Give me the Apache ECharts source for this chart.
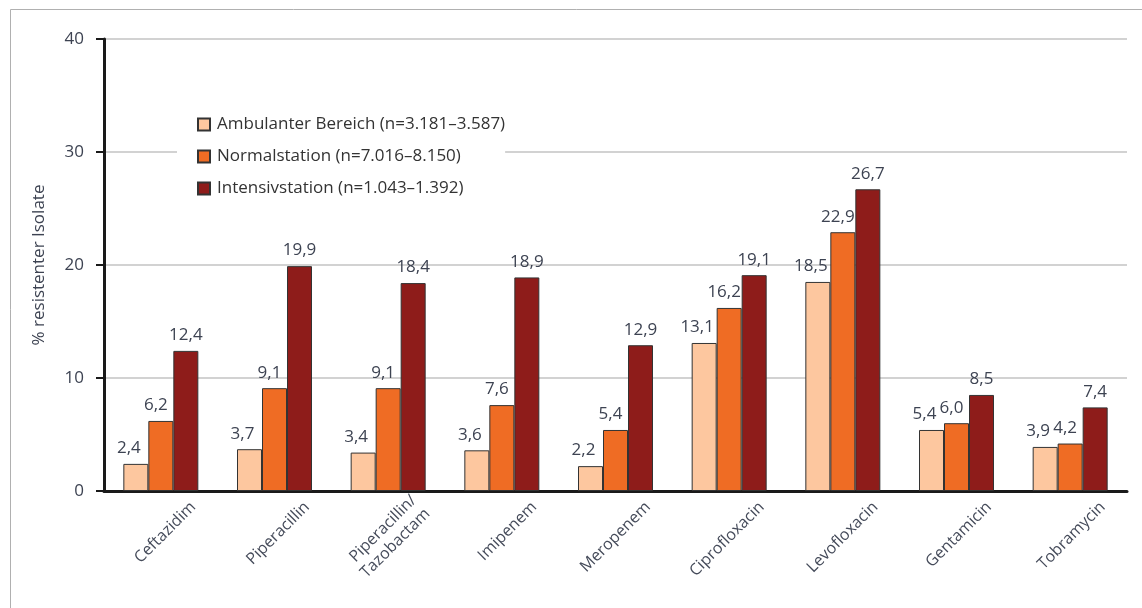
<!DOCTYPE html>
<html>
<head>
<meta charset="utf-8">
<script src="https://cdn.jsdelivr.net/npm/echarts@6/dist/echarts.min.js"></script>
<style>
  html, body { margin: 0; padding: 0; background: #fff; }
  #chart { width: 1142px; height: 608px; }
</style>
</head>
<body>
<div id="chart"></div>
<script>
// Kategorien und Werte (% resistenter Isolate)
var categories = ['Ceftazidim', 'Piperacillin', 'Piperacillin/\nTazobactam', 'Imipenem', 'Meropenem',
    'Ciprofloxacin', 'Levofloxacin', 'Gentamicin', 'Tobramycin'];
var seriesNames = ['Ambulanter Bereich (n=3.181–3.587)', 'Normalstation (n=7.016–8.150)', 'Intensivstation (n=1.043–1.392)'];
var ambulant = [2.4, 3.7, 3.4, 3.6, 2.2, 13.1, 18.5, 5.4, 3.9];
var normal = [6.2, 9.1, 9.1, 7.6, 5.4, 16.2, 22.9, 6.0, 4.2];
var intensiv = [12.4, 19.9, 18.4, 18.9, 12.9, 19.1, 26.7, 8.5, 7.4];
var yTicks = [0, 10, 20, 30, 40];

var colors = ['#fdc79f', '#ef6c24', '#8e1c1a'];
var labelShift = [-7, -5, 0];
var font = '"Open Sans", "Noto Sans", sans-serif';
var textColor = '#3d4352';

var chart = echarts.init(document.getElementById('chart'));

function makeSeries(name, data, idx) {
    return {
        name: name,
        type: 'bar',
        data: data,
        barWidth: 25,
        barGap: '0%',
        itemStyle: {
            color: colors[idx],
            borderColor: '#333',
            borderWidth: 1
        },
        label: {
            show: true,
            position: 'top',
            distance: 7,
            offset: [labelShift[idx], 0],
            color: textColor,
            fontFamily: font,
            fontSize: 17,
            formatter: function (p) {
                return p.value.toFixed(1).replace('.', ',');
            }
        }
    };
}

chart.setOption({
    animation: false,
    backgroundColor: '#fff',
    graphic: [{
        type: 'rect',
        left: 8,
        top: 7,
        shape: { width: 1300, height: 800 },
        style: { fill: 'none', stroke: '#b0b0b0', lineWidth: 1 },
        silent: true,
        z: -10
    }],
    grid: {
        left: 104,
        right: 15,
        top: 39,
        bottom: 117
    },
    legend: {
        orient: 'vertical',
        left: 177,
        top: 110,
        padding: [6, 0, 6, 20],
        backgroundColor: '#fff',
        itemWidth: 12,
        itemHeight: 12,
        itemGap: 15,
        icon: 'rect',
        textStyle: {
            color: '#333',
            fontFamily: font,
            fontSize: 17,
            padding: [0, 0, 0, 2]
        },
        data: seriesNames
    },
    xAxis: {
        type: 'category',
        data: categories,
        axisLine: { lineStyle: { color: '#1a1a1a', width: 3 } },
        axisTick: { length: 6, lineStyle: { color: '#1a1a1a', width: 2 } },
        axisLabel: {
            interval: 0,
            rotate: 45,
            margin: 46,
            padding: [0, -46, 0, 0],
            color: '#454b5a',
            fontFamily: font,
            fontSize: 16,
            lineHeight: 19
        }
    },
    yAxis: {
        type: 'value',
        min: 0,
        max: 40,
        interval: 10,
        name: '% resistenter Isolate',
        nameLocation: 'middle',
        nameGap: 56,
        nameTextStyle: { color: textColor, fontFamily: font, fontSize: 17 },
        axisLine: { show: true, lineStyle: { color: '#1a1a1a', width: 3 } },
        axisTick: { show: true, length: 8, lineStyle: { color: '#1a1a1a', width: 2 } },
        axisLabel: {
            margin: 20,
            color: textColor,
            fontFamily: font,
            fontSize: 17,
            formatter: function (v) { return yTicks.indexOf(v) >= 0 ? String(v) : ''; }
        },
        splitLine: { lineStyle: { color: '#d2d2d2', width: 2 } }
    },
    series: [
        makeSeries(seriesNames[0], ambulant, 0),
        makeSeries(seriesNames[1], normal, 1),
        makeSeries(seriesNames[2], intensiv, 2)
    ]
});
</script>
</body>
</html>
